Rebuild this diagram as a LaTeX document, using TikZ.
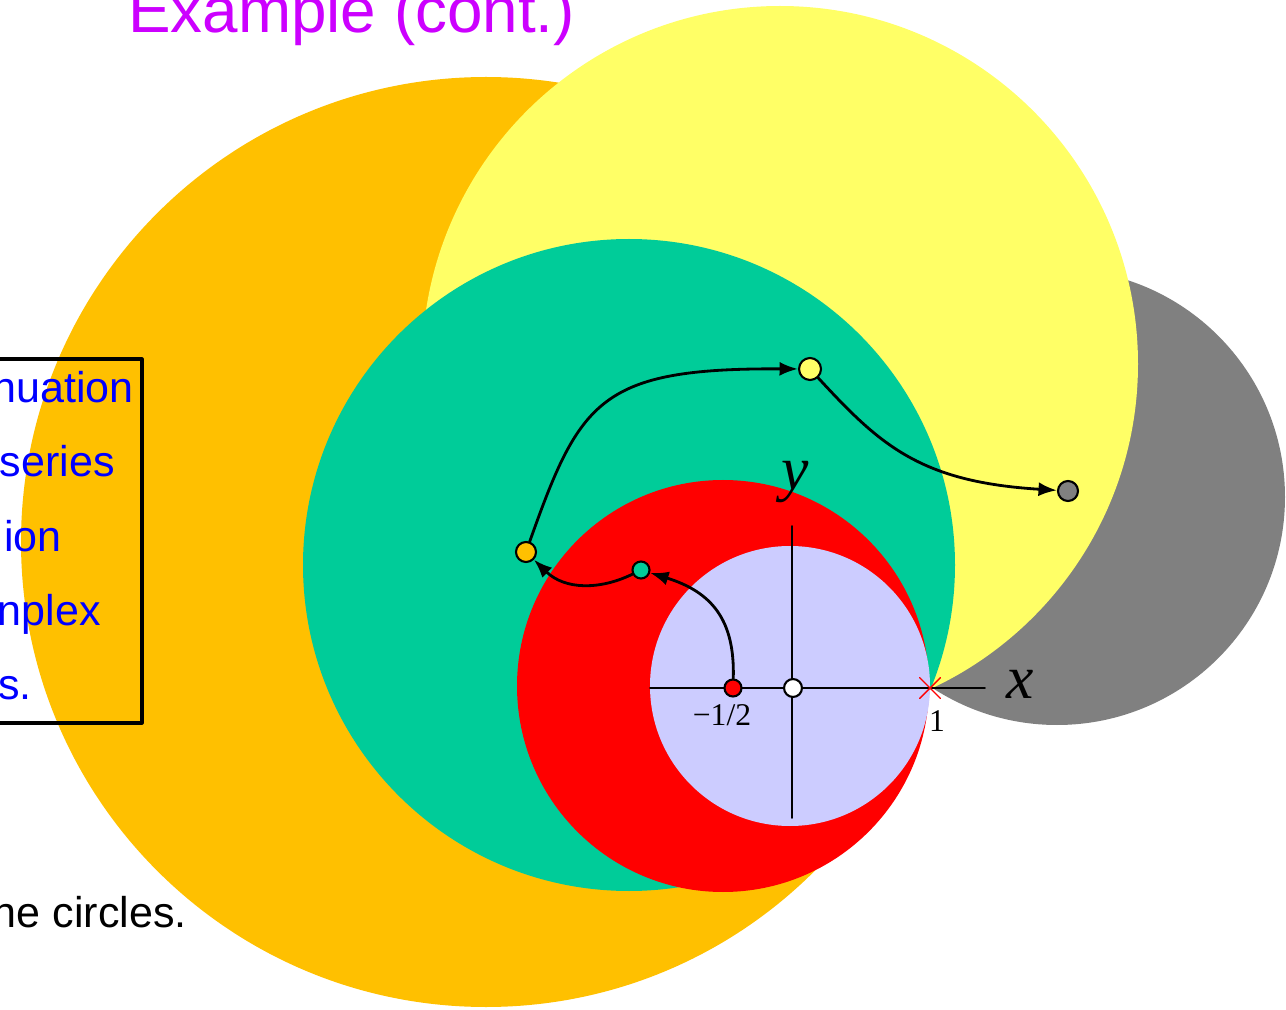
\documentclass[tikz,border=0pt]{standalone}
\usepackage{fontspec}
\setsansfont{Liberation Sans}
\newfontfamily\numfont{Liberation Serif}
\usetikzlibrary{arrows.meta,shapes.misc}
\definecolor{discorange}{HTML}{FFC000}
\definecolor{discyellow}{HTML}{FFFF66}
\definecolor{discgray}{HTML}{808080}
\definecolor{discgreen}{HTML}{00CC99}
\definecolor{discred}{HTML}{FF0000}
\definecolor{disclav}{HTML}{CCCCFF}
\definecolor{titlemag}{HTML}{CC00FF}
\definecolor{txtblue}{HTML}{0000FF}
\tikzset{
    pt/.style={
        circle, draw=black, line width=1.2pt, inner sep=0pt, minimum size=11.4pt
    },
    cont/.style={
        line width=1.6pt, -{Latex[length=10.5pt,width=8pt]}
    },
    bigtxt/.style={
        font=\sffamily\fontsize{24.5}{30}\selectfont, inner sep=0pt
    },
    axlab/.style={
        font=\numfont\itshape\fontsize{35}{40}\selectfont, inner sep=0pt
    },
    ticklab/.style={
        font=\numfont\fontsize{18}{20}\selectfont, inner sep=0pt
    }
}

\begin{document}
\begin{tikzpicture}[x=0.02cm, y=-0.02cm, line cap=round, line join=round]

\useasboundingbox (0,0) rectangle (1286,1010);
\clip (0,0) rectangle (1286,1010);

% discs of convergence, all through the point 1
\fill[discorange] (486,542) circle (465);
\fill[discgray]   (1057,497) circle (228);
\fill[discyellow] (780,364) circle (358);
\fill[discgreen]  (629,565) circle (326);
\fill[discred]    (723,686) circle (206);
\fill[disclav]    (790,686) circle (140);

% axes
\draw[line width=1.1pt] (650,688) -- (985,688);
\draw[line width=1.1pt] (792,526) -- (792,818);
\node[axlab] (xlab) at (1020,684) {x};
\node[axlab] (ylab) at (795,482) {y};

% title and side text
\node[font=\sffamily\fontsize{36.3}{40}\selectfont, text=titlemag, inner sep=0pt,
      anchor=base west] (title) at (128,33) {Example (cont.)};

\draw[line width=1.8pt] (-10,359) rectangle (142,723);
\foreach \t/\xe/\yb [count=\i] in {nuation/134/403, series/115/477, ion/62/551,
                                   nplex/101/625, s./32/699} {
  \node[bigtxt, text=txtblue, anchor=base east] (line\i) at (\xe,\yb) {\t};
}
\node[bigtxt, anchor=base east] (note) at (187,927) {ne circles.};

% centres
\node[pt, fill=discred, minimum size=9.7pt] (pred) at (733,688) {};
\node[pt, fill=white, minimum size=10.2pt] (porig) at (793,688) {};
\node[pt, fill=discgreen, minimum size=9.7pt] (pgreen) at (641,570) {};
\node[pt, fill=discorange] (porange) at (526,552) {};
\node[pt, fill=discyellow, minimum size=12.5pt] (pyellow) at (810,369) {};
\node[pt, fill=discgray] (pgray) at (1068,491) {};
\node[cross out, draw=discred, line width=0.8pt, inner sep=0pt,
      minimum size=11pt] (sing) at (930,688) {};

\node[ticklab] (lhalf) at (722,715) {−1/2};
\node[ticklab] (lone) at (937,721) {1};

% continuation path
\draw[cont] (pred) .. controls (735,620) and (712,592) .. (pgreen);
\draw[cont] (pgreen) .. controls (600,590) and (565,590) .. (porange);
\draw[cont] (porange) .. controls (580,400) and (600,368) .. (pyellow);
\draw[cont] (pyellow) .. controls (880,445) and (920,482) .. (pgray);

\end{tikzpicture}
\end{document}
